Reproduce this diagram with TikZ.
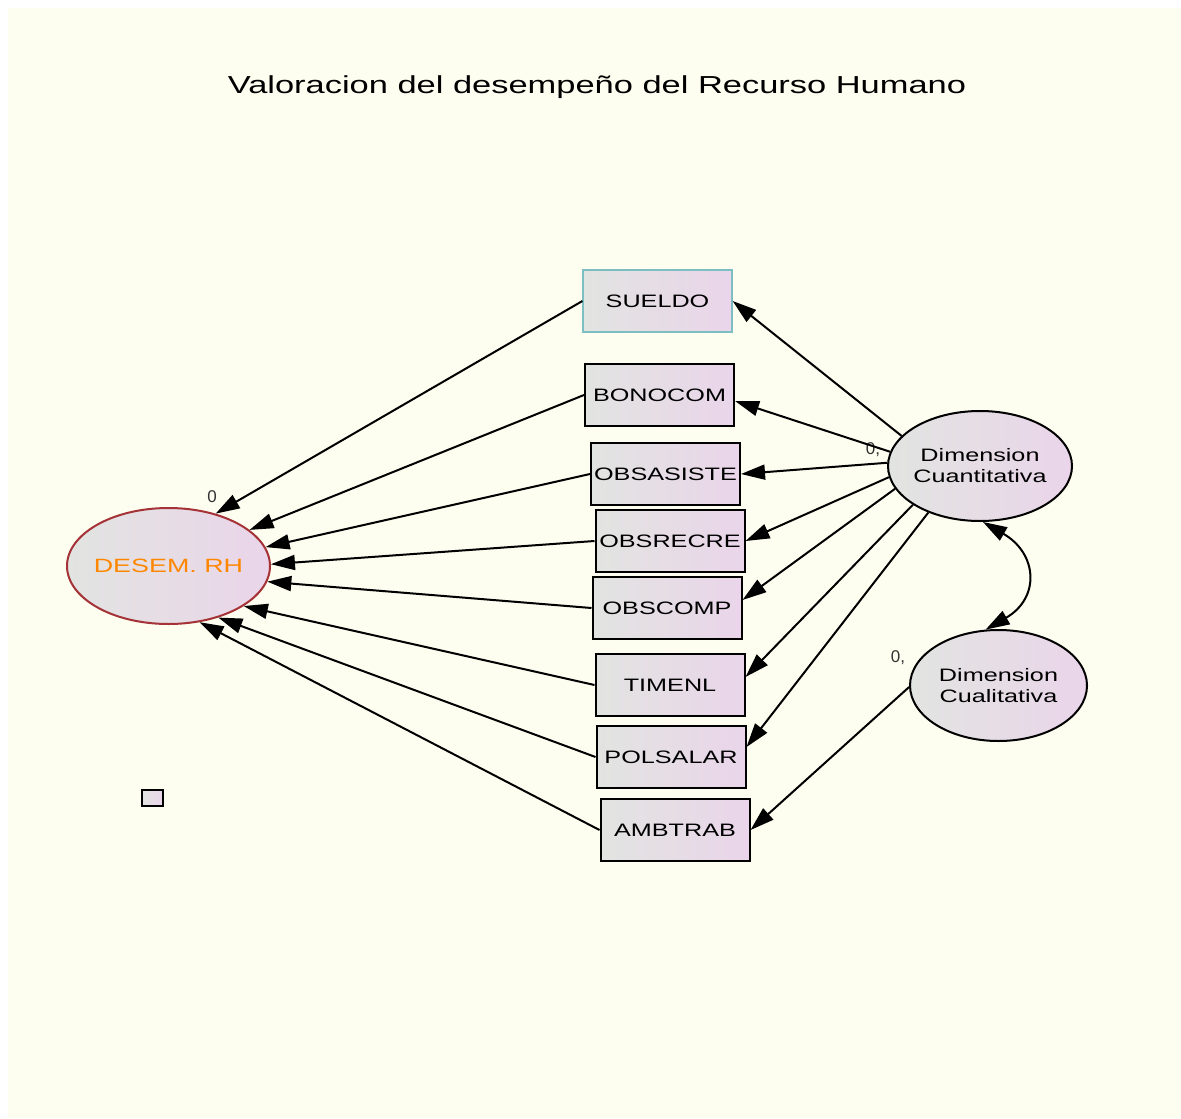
\documentclass[tikz,border=0pt]{standalone}
\usepackage{fontspec}
\setmainfont[FakeStretch=1.4]{Liberation Sans}
\newfontfamily\wtfont{Liberation Sans}
\usetikzlibrary{arrows.meta,shapes.geometric}
\definecolor{bgpale}{RGB}{253,254,240}
\definecolor{shadeL}{RGB}{226,228,225}
\definecolor{shadeR}{RGB}{234,213,234}
\definecolor{desemred}{RGB}{165,50,55}
\definecolor{desemtxt}{RGB}{255,135,0}
\definecolor{sueldoedge}{RGB}{125,190,195}
\tikzset{>/.tip={Triangle[length=12pt,width=7.5pt]},
  obs/.style={draw,line width=1pt,rectangle,left color=shadeL,right color=shadeR,
    minimum width=74.5pt,minimum height=31pt,inner sep=1pt,font=\fontsize{9}{10.8}\selectfont},
  lat/.style={draw,line width=1pt,ellipse,left color=shadeL,right color=shadeR,
    inner sep=-4pt,align=center,font=\fontsize{9}{10.5}\selectfont},
  wt/.style={text=black!80,font=\wtfont\fontsize{8.5}{9}\selectfont}}

\begin{document}
\begin{tikzpicture}[x=0.5pt,y=0.5pt]
\useasboundingbox (0,0) rectangle (1181,-1118);
\fill[white] (0,0) rectangle (1181,-1118);
\fill[bgpale] (8,-8) rectangle (1181,-1118);

\node (title) at (597,-87) {\fontsize{12.3}{14}\selectfont Valoracion del desempeño del Recurso Humano};

\node[obs,draw=sueldoedge,line width=0.6pt] (SUELDO) at (657.5,-301) {SUELDO};
\node[obs] (BONOCOM) at (659.5,-395) {BONOCOM};
\node[obs] (OBSASISTE) at (665.5,-474) {OBSASISTE};
\node[obs] (OBSRECRE) at (670,-541) {OBSRECRE};
\node[obs] (OBSCOMP) at (667,-608) {OBSCOMP};
\node[obs] (TIMENL) at (670,-685) {TIMENL};
\node[obs] (POLSALAR) at (671,-757) {POLSALAR};
\node[obs] (AMBTRAB) at (675,-830) {AMBTRAB};

\node[lat,draw=desemred,text=desemtxt,minimum width=101.5pt,minimum height=58pt,font=\fontsize{9.6}{11}\selectfont] (DESEM) at (168.5,-566) {DESEM. RH};
\node[lat,minimum width=92pt,minimum height=55pt] (Cuant) at (980,-466) {Dimension\\Cuantitativa};
\node[lat,minimum width=88.5pt,minimum height=55.5pt] (Cual) at (998.5,-685.5) {Dimension\\Cualitativa};

\node[draw,line width=1pt,left color=shadeL,right color=shadeR,minimum width=10.5pt,minimum height=8pt,inner sep=0pt] (err) at (152.5,-798) {};

\node[wt] (w-DESEM) at (212,-497) {0};
\node[wt] (w-Cuant) at (873,-450) {0,};
\node[wt] (w-Cual) at (898,-658) {0,};

\path[->,line width=1pt] (SUELDO.west) edge (DESEM.48);
\path[->,line width=1pt] (BONOCOM.west) edge (DESEM.24);
\path[->,line width=1pt] (OBSASISTE.west) edge (DESEM.11);
\path[->,line width=1pt] (OBSRECRE.west) edge (DESEM.1);
\path[->,line width=1pt] (OBSCOMP.west) edge (DESEM.-9);
\path[->,line width=1pt] (TIMENL.west) edge (DESEM.-28);
\path[->,line width=1pt] (POLSALAR.west) edge (DESEM.-46);
\path[->,line width=1pt] (AMBTRAB.west) edge (DESEM.-61);

\path[->,line width=1pt] (Cuant.159) edge (SUELDO.east);
\path[->,line width=1pt] (Cuant.171) edge ([yshift=-3pt]BONOCOM.east);
\path[->,line width=1pt] (Cuant.178) edge (OBSASISTE.east);
\path[->,line width=1pt] (Cuant.187) edge (OBSRECRE.east);
\path[->,line width=1pt] (Cuant.195) edge ([yshift=4pt]OBSCOMP.east);
\path[->,line width=1pt] (Cuant.210) edge ([yshift=4pt]TIMENL.east);
\path[->,line width=1pt] (Cuant.222) edge ([yshift=5pt]POLSALAR.east);
\path[->,line width=1pt] (Cual.181) edge (AMBTRAB.east);

\path[<->,line width=1pt] (Cuant.273) edge[out=-30,in=30,looseness=1.5] (Cual.103);
\end{tikzpicture}
\end{document}
